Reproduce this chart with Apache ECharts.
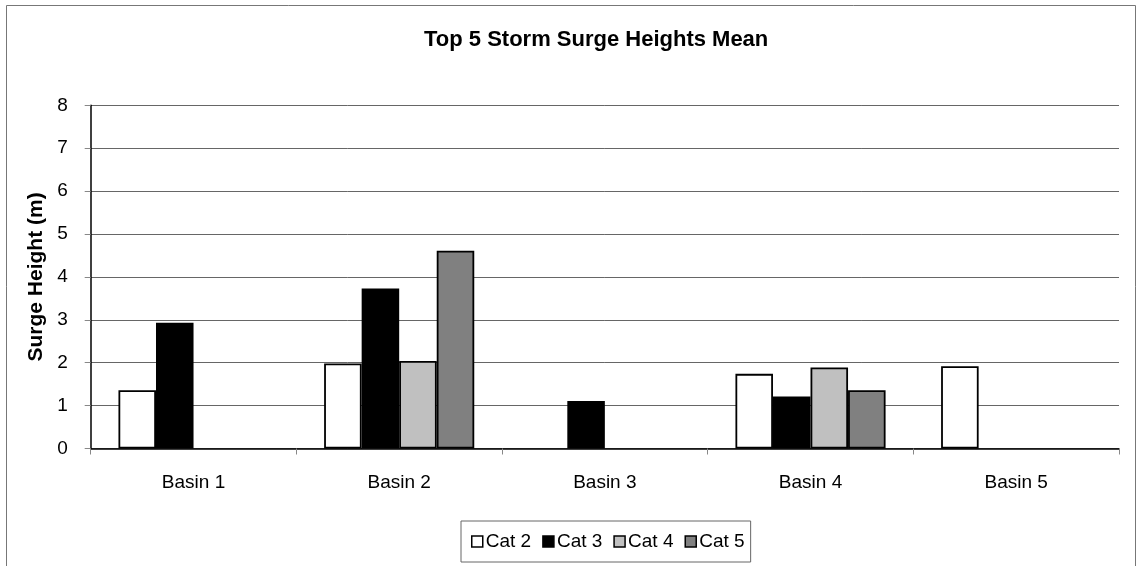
<!DOCTYPE html>
<html>
<head>
<meta charset="utf-8">
<script src="https://cdn.jsdelivr.net/npm/echarts@6/dist/echarts.min.js"></script>
<style>html,body{margin:0;padding:0;background:#fff;}#c{width:1136px;height:566px;}</style>
</head>
<body>
<div id="c"></div>
<script>
var categories = ['Basin 1', 'Basin 2', 'Basin 3', 'Basin 4', 'Basin 5'];
var cat2 = [1.36, 1.98, null, 1.74, 1.92];
var cat3 = [2.93, 3.73, 1.11, 1.21, null];
var cat4 = [null, 2.04, null, 1.89, null];
var cat5 = [null, 4.61, null, 1.36, null];
var seriesNames = ['Cat 2', 'Cat 3', 'Cat 4', 'Cat 5'];
var seriesColors = ['#ffffff', '#000000', '#c0c0c0', '#808080'];
var yTicks = [0, 1, 2, 3, 4, 5, 6, 7, 8];

var FONT = '"Liberation Sans", Arial, sans-serif';
var chart = echarts.init(document.getElementById('c'), null, {renderer: 'canvas'});
var allData = [cat2, cat3, cat4, cat5];
var series = seriesNames.map(function (n, i) {
  return {
    name: n,
    type: 'bar',
    data: allData[i],
    barGap: '0%',
    barCategoryGap: '27%',
    itemStyle: {color: seriesColors[i], borderColor: '#000', borderWidth: 1.8},
    emphasis: {disabled: true},
    animation: false
  };
});
chart.setOption({
  animation: false,
  backgroundColor: '#fff',
  textStyle: {fontFamily: FONT},
  title: {
    text: 'Top 5 Storm Surge Heights Mean',
    left: 419, top: 24,
    textStyle: {fontFamily: FONT, fontSize: 22, fontWeight: 'bold', color: '#000'}
  },
  graphic: [{
    type: 'rect', silent: true, z: -10,
    shape: {x: 6.5, y: 5.5, width: 1129, height: 700},
    style: {fill: null, stroke: '#777', lineWidth: 1}
  }],
  legend: {
    data: seriesNames,
    left: 461, top: 521,
    orient: 'horizontal',
    itemWidth: 11, itemHeight: 11, itemGap: 11,
    padding: [11, 6, 11, 10],
    borderColor: '#666', borderWidth: 1,
    icon: 'rect',
    itemStyle: {borderColor: '#000', borderWidth: 1.5},
    textStyle: {fontFamily: FONT, fontSize: 19, color: '#000', padding: [0, 0, 0, -2]}
  },
  grid: {left: 90.7, right: 17, top: 105.3, bottom: 117.5, containLabel: false},
  xAxis: {
    type: 'category',
    data: categories,
    axisLine: {show: true, lineStyle: {color: '#000', width: 1.5}},
    axisTick: {show: true, length: 6, lineStyle: {color: '#888'}},
    axisLabel: {fontFamily: FONT, fontSize: 19, color: '#000', margin: 25},
    splitLine: {show: false}
  },
  yAxis: {
    type: 'value',
    min: 0, max: 8, interval: 1,
    name: 'Surge Height (m)',
    nameLocation: 'middle',
    nameGap: 38,
    nameTextStyle: {fontFamily: FONT, fontSize: 21, fontWeight: 'bold', color: '#000'},
    axisLine: {show: true, lineStyle: {color: '#000', width: 1.5}},
    axisTick: {show: true, length: 6, lineStyle: {color: '#888'}},
    axisLabel: {fontFamily: FONT, fontSize: 19, color: '#000', margin: 23,
      formatter: function (v) { return yTicks.indexOf(v) >= 0 ? String(v) : ''; }},
    splitLine: {show: true, lineStyle: {color: '#666', width: 1}}
  },
  series: series
});
</script>
</body>
</html>
